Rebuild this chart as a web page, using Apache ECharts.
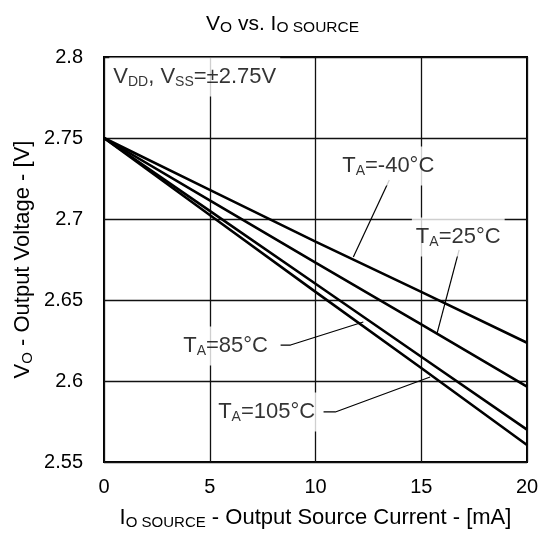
<!DOCTYPE html>
<html>
<head>
<meta charset="utf-8">
<script src="https://cdn.jsdelivr.net/npm/echarts@6/dist/echarts.min.js"></script>
<style>
html, body { margin: 0; padding: 0; background: #fff; }
#main { width: 542px; height: 537px; }
</style>
</head>
<body>
<div id="main"></div>
<script>
// 数据
var currentMa = [0, 5, 10, 15, 20];
var vM40 = [2.75, 2.718, 2.686, 2.655, 2.6236];
var v25 = [2.75, 2.7115, 2.673, 2.635, 2.5965];
var v85 = [2.75, 2.705, 2.660, 2.615, 2.570];
var v105 = [2.75, 2.7025, 2.655, 2.608, 2.5605];

var xTicks = [0, 5, 10, 15, 20];
var yTicks = [2.55, 2.6, 2.65, 2.7, 2.75, 2.8];

// 标注文字 + 锚点 (数据坐标)
var noteText = [
    '{n|V}{s|DD}{n|, V}{s|SS}{n|=±2.75V}',
    '{n|T}{s|A}{n|=-40°C}',
    '{n|T}{s|A}{n|=25°C}',
    '{n|T}{s|A}{n|=85°C}',
    '{n|T}{s|A}{n|=105°C}'
];
var noteAnchor = [[0.25, 2.7877], [13.44, 2.7327], [16.75, 2.6889], [5.75, 2.6216], [7.69, 2.5809]];
var noteAlign = ['left', 'center', 'center', 'center', 'center'];

// 引线
var leaderM40 = [[13.49, 2.7241], [11.79, 2.6765]];
var leader25 = [[16.79, 2.6809], [15.75, 2.6296]];
var leader85 = [[8.35, 2.6222], [8.82, 2.6222], [12.26, 2.6364]];
var leader105 = [[10.38, 2.5809], [10.94, 2.5809], [15.42, 2.6025]];

function pairs(ys) {
    var out = [];
    for (var i = 0; i < currentMa.length; i++) out.push([currentMa[i], ys[i]]);
    return out;
}

function subRich(big, small, lh) {
    return {
        n: { fontSize: big, fontFamily: 'Liberation Sans', color: '#000', lineHeight: lh },
        s: { fontSize: small, fontFamily: 'Liberation Sans', color: '#000', lineHeight: small, verticalAlign: 'bottom' }
    };
}

function curve(ys) {
    return {
        type: 'line', data: pairs(ys), symbol: 'none', smooth: false, silent: true, z: 5,
        lineStyle: { color: '#000', width: 2.6 }
    };
}
function leader(pts) {
    return {
        type: 'line', data: pts, symbol: 'none', silent: true, z: 4,
        lineStyle: { color: '#000', width: 1.2 }
    };
}

var noteData = [];
for (var i = 0; i < noteText.length; i++) {
    noteData.push({
        value: noteAnchor[i],
        label: { formatter: noteText[i], align: noteAlign[i] }
    });
}

var chart = echarts.init(document.getElementById('main'));
var option = {
    backgroundColor: '#fff',
    animation: false,
    title: {
        text: '{n|V}{s|O}{n| vs. I}{s|O SOURCE}',
        left: 201,
        top: 7,
        textStyle: { fontWeight: 'normal', fontSize: 21, rich: subRich(21, 15.5, 24) }
    },
    grid: {
        left: 104, right: 15, top: 57, bottom: 75,
        show: true, borderColor: '#000', borderWidth: 2, backgroundColor: 'transparent'
    },
    xAxis: {
        type: 'value', min: xTicks[0], max: xTicks[xTicks.length - 1], interval: 5,
        axisLine: { show: false }, axisTick: { show: false },
        splitLine: { show: true, lineStyle: { color: '#111', width: 1.3 } },
        axisLabel: { fontSize: 20, fontFamily: 'Liberation Sans', color: '#000', margin: 15 },
        name: '{n|I}{s|O SOURCE}{n| - Output Source Current - [mA]}',
        nameLocation: 'middle', nameGap: 43, nameMoveOverlap: false,
        nameTextStyle: { rich: subRich(22, 15, 25) }
    },
    yAxis: {
        type: 'value', min: yTicks[0], max: yTicks[yTicks.length - 1], interval: 0.05,
        axisLine: { show: false }, axisTick: { show: false },
        splitLine: { show: true, lineStyle: { color: '#111', width: 1.3 } },
        axisLabel: {
            fontSize: 20, fontFamily: 'Liberation Sans', color: '#000', margin: 21,
            formatter: function (v) { return String(+v.toFixed(2)); }
        },
        name: '{n|V}{s|O}{n| - Output Voltage - [V]}',
        nameLocation: 'middle', nameGap: 69, nameRotate: 90, nameMoveOverlap: false,
        nameTextStyle: { rich: subRich(22, 15, 25) }
    },
    series: [
        curve(vM40), curve(v25), curve(v85), curve(v105),
        leader(leaderM40), leader(leader25), leader(leader85), leader(leader105),
        {
            type: 'scatter', data: noteData, symbolSize: 0, silent: true, z: 6,
            label: {
                show: true, position: 'inside', verticalAlign: 'middle', color: '#000',
                backgroundColor: '#fff', padding: [7, 4],
                rich: subRich(22, 14, 25)
            }
        }
    ]
};
chart.setOption(option);
</script>
</body>
</html>
